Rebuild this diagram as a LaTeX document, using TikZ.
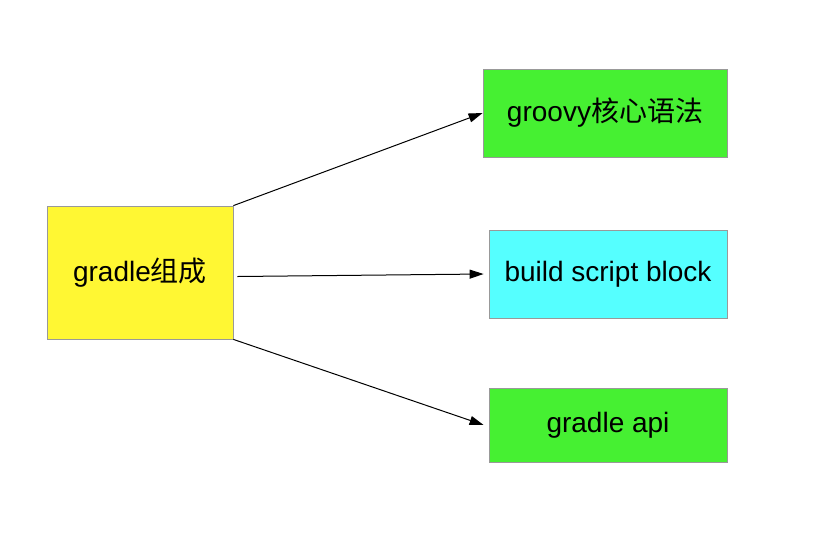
\documentclass[tikz,border=0pt]{standalone}
\usepackage{fontspec}
\setmainfont{Liberation Sans}
\newfontfamily\cjk{Noto Sans CJK SC}
\usetikzlibrary{arrows.meta}
\begin{document}
\begin{tikzpicture}[x=1pt,y=-1pt,
  box/.style={draw=black!40, line width=0.8pt, inner sep=0pt, font=\fontsize{28}{32}\selectfont},
  conn/.style={line width=1pt, -{Triangle[length=14pt,width=9pt]}}]
\useasboundingbox (0,0) rectangle (818,542);
\fill[white] (0,0) rectangle (818,542);
\node[box, fill={rgb,255:red,255;green,247;blue,51}, minimum width=186pt, minimum height=133pt] (comp) at (140,272.5) {gradle{\cjk 组成}};
\node[box, fill={rgb,255:red,70;green,240;blue,50}, minimum width=244pt, minimum height=88pt] (groovy) at (605,113) {groovy{\cjk 核心语法}};
\node[box, fill={rgb,255:red,85;green,255;blue,255}, minimum width=238pt, minimum height=88pt] (bsb) at (608,274) {build script block};
\node[box, fill={rgb,255:red,70;green,240;blue,50}, minimum width=238pt, minimum height=74pt] (api) at (608,425) {gradle api};
\draw[conn] (comp.north east) -- (groovy.west);
\draw[conn] ([xshift=4pt,yshift=-4pt]comp.east) -- ([xshift=-5pt]bsb.west);
\draw[conn] (comp.south east) -- ([xshift=-5pt]api.west);
\end{tikzpicture}
\end{document}
